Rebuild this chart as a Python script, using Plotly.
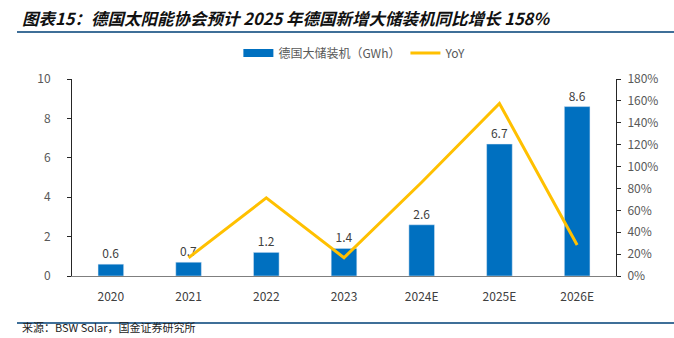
import plotly.graph_objects as go

categories = ["2020", "2021", "2022", "2023", "2024E", "2025E", "2026E"]
capacity_gwh = [0.6, 0.7, 1.2, 1.4, 2.6, 6.7, 8.6]
yoy_categories = ["2021", "2022", "2023", "2024E", "2025E", "2026E"]
yoy_pct = [16.7, 71.4, 16.7, 85.7, 157.7, 28.4]
left_ticks = [0, 2, 4, 6, 8, 10]
right_ticks = [0, 20, 40, 60, 80, 100, 120, 140, 160, 180]

W, H = 674, 338
L, R, T, B = 72, 58, 79, 62
grey = "#595959"
font = "Noto Sans CJK SC, Noto Sans, sans-serif"

fig = go.Figure()
fig.add_trace(go.Bar(
    x=categories, y=capacity_gwh, name="德国大储装机（GWh）", showlegend=False,
    marker_color="#0070C0", width=0.33,
    text=[f"{v:.1f}" for v in capacity_gwh], textposition="outside",
    textfont=dict(color="#404040", size=12), cliponaxis=False,
))
# legend entry styled as a wide rectangle (as in the reference)
fig.add_trace(go.Scatter(
    x=[None], y=[None], name="德国大储装机（GWh）", mode="lines",
    line=dict(color="#0070C0", width=8),
))
fig.add_trace(go.Scatter(
    x=yoy_categories, y=yoy_pct, name="YoY", yaxis="y2",
    mode="lines", line=dict(color="#FFC000", width=3),
))

fig.update_layout(
    width=W, height=H,
    margin=dict(l=L, r=R, t=T, b=B, pad=0, autoexpand=False),
    paper_bgcolor="white", plot_bgcolor="white",
    font=dict(family=font, color=grey, size=12),
    showlegend=True,
    legend=dict(orientation="h", x=0.52, xanchor="center", y=(H - 53) / H, yanchor="middle",
                yref="container", font=dict(size=12, color=grey),
                itemwidth=30, tracegroupgap=0),
    xaxis=dict(showline=True, linecolor="#7f7f7f", linewidth=1, ticks="",
               tickfont=dict(size=12, color="#404040"), showgrid=False, ticklabelstandoff=10),
    yaxis=dict(range=[0, 10], tickvals=left_ticks, showline=True, linecolor="#262626",
               linewidth=1, ticks="outside", ticklen=4, tickcolor="#262626",
               showgrid=False, zeroline=False, tickfont=dict(size=12, color=grey),
               ticklabelstandoff=14),
    yaxis2=dict(range=[0, 180], tickvals=right_ticks, ticktext=[f"{v}%" for v in right_ticks],
                overlaying="y", side="right", showline=True, linecolor="#262626", linewidth=1,
                ticks="outside", ticklen=4, tickcolor="#262626", showgrid=False, zeroline=False,
                tickfont=dict(size=12, color=grey), ticklabelstandoff=4),
    bargap=0.67,
)

fig.add_annotation(
    text="<b><i>图表15：德国太阳能协会预计 2025 年德国新增大储装机同比增长 158%</i></b>",
    xref="paper", yref="paper", x=(20 - L) / (W - L - R), y=1 + (T - 18) / (H - T - B),
    xanchor="left", yanchor="middle", showarrow=False,
    font=dict(size=16.5, color="#111111", family=font),
)
fig.add_annotation(
    text="来源：BSW Solar，国金证券研究所",
    xref="paper", yref="paper", x=(20 - L) / (W - L - R), y=-(337 - (H - B)) / (H - T - B),
    xanchor="left", yanchor="bottom", showarrow=False,
    font=dict(size=11, color="#222222", family=font),
)
fig.add_shape(type="line", xref="paper", yref="paper",
              x0=(17 - L) / (W - L - R), x1=(W - L) / (W - L - R),
              y0=1 + (T - 32) / (H - T - B), y1=1 + (T - 32) / (H - T - B),
              line=dict(color="#3F6F98", width=2))
fig.add_shape(type="line", xref="paper", yref="paper",
              x0=(17 - L) / (W - L - R), x1=(W - L) / (W - L - R),
              y0=-(323 - (H - B)) / (H - T - B), y1=-(323 - (H - B)) / (H - T - B),
              line=dict(color="#3F6F98", width=2))

fig.write_html("out.html")
